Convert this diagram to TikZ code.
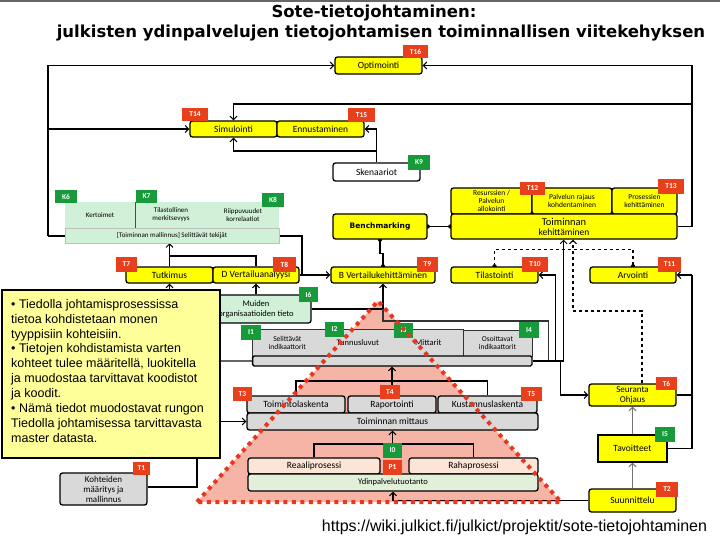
\documentclass[tikz,border=0pt]{standalone}
\usepackage{fontspec}
\setmainfont{Carlito}
\newfontfamily\titlefont{DejaVu Sans}
\newfontfamily\arialfont{Liberation Sans}
\usetikzlibrary{arrows.meta}
\pgfdeclarelayer{pyr}\pgfdeclarelayer{bg}\pgfdeclarelayer{fg}
\pgfsetlayers{pyr,bg,main,fg}
\definecolor{ybox}{HTML}{FFFF00}
\definecolor{ytext}{HTML}{FFFF99}
\definecolor{tred}{HTML}{E8401C}
\definecolor{kgreen}{HTML}{169A3A}
\definecolor{lgreen}{HTML}{D0F0D8}
\definecolor{gbox}{HTML}{D9D9D9}
\definecolor{peach}{HTML}{FCE4D6}
\definecolor{ygreen}{HTML}{E2F0D9}
\definecolor{pyrfill}{HTML}{F6B4A6}
\definecolor{pyrdot}{HTML}{E8371E}
\newcommand\mybox[7]{\node[#6, minimum width={#4pt-#2pt}, minimum height={#5pt-#3pt}] (#1) at ({(#2+#4)/2},{(#3+#5)/2}) {#7};}
\begin{document}
\begin{tikzpicture}[x=1pt,y=-1pt,
  >={Straight Barb[length=3.5pt,width=7pt,line width=1pt]},
  conn/.style={line width=1.3pt},
  box/.style={draw=black, line width=1.3pt, rounded corners=2.5pt, fill=ybox, inner sep=0pt, align=center, font=\fontsize{9.5}{10}\selectfont},
  sbox/.style={box, font=\fontsize{7.5}{8}\selectfont},
  wbox/.style={box, fill=white},
  gcell/.style={fill=gbox, inner sep=0pt, align=center, font=\fontsize{7.5}{8}\selectfont},
  kcell/.style={fill=lgreen, inner sep=0pt, align=center, font=\fontsize{7}{8}\selectfont},
  lab/.style={inner sep=0pt, text=white, font=\bfseries\fontsize{7.5}{8}\selectfont},
  tlab/.style={lab, fill=tred},
  klab/.style={lab, fill=kgreen}]
\useasboundingbox (0,0) rectangle (720,540);
\begin{pgfonlayer}{pyr}
\fill[white] (0,0) rectangle (720,540);
\fill[pyrfill] (378,301) -- (561,502) -- (197,502) -- cycle;
\end{pgfonlayer}
\draw[black!60, line width=1.5pt] (0,1) -- (720,1);

% title
\node[font=\titlefont\bfseries\fontsize{16.5}{18}\selectfont] (t1) at (374,13) {Sote-tietojohtaminen:};
\node[font=\titlefont\bfseries\fontsize{16.5}{18}\selectfont] (t2) at (381,33) {julkisten ydinpalvelujen tietojohtamisen toiminnallisen viitekehyksen};

% boxes
\mybox{opt}{335}{57}{422}{74}{box}{Optimointi}
\mybox{sim}{190}{121}{277}{137}{box}{Simulointi}
\mybox{enn}{277}{121}{364}{137}{box}{Ennustaminen}
\mybox{sken}{333}{163}{420}{181}{wbox}{Skenaariot}
\mybox{res}{451}{188}{532}{214}{sbox}{Resurssien /\\Palvelun\\allokointi}
\mybox{pal}{532}{188}{612}{214}{sbox}{Palvelun rajaus\\kohdentaminen}
\mybox{pro}{612}{188}{677}{214}{sbox}{Prosessien\\kehittäminen}
\mybox{tk}{451}{214}{677}{239}{box}{\fontsize{10.5}{12}\selectfont Toiminnan\\kehittäminen}
\mybox{bench}{333}{214}{427}{239}{box}{\titlefont\bfseries\fontsize{7.5}{8}\selectfont Benchmarking}

\mybox{ker}{65}{202}{135}{228}{kcell}{Kertoimet}
\mybox{tila}{135}{202}{207}{228}{kcell}{Tilastollinen\\merkitsevyys}
\mybox{rii}{207}{202}{279}{228}{kcell}{Riippuvuudet\\korrelaatiot}
\mybox{kbar}{65}{228}{279}{243}{kcell, draw=black!25, line width=0.5pt}{[Toiminnan mallinnus]  Selittävät tekijät}
\draw[black!70, line width=0.7pt] (ker.north east) -- (ker.south east);

\mybox{tut}{126}{267}{213}{283}{box}{Tutkimus}
\mybox{dv}{213}{267}{299}{283}{box}{D Vertailuanalyysi}
\mybox{bv}{331}{267}{435}{283}{box}{B Vertailukehittäminen}
\mybox{til}{451}{267}{538}{283}{box}{Tilastointi}
\mybox{arv}{590}{267}{676}{283}{box}{Arvointi}

\mybox{mui}{201}{295}{311}{323}{box, fill=lgreen, font=\fontsize{8.5}{10}\selectfont}{Muiden\\organisaatioiden tieto}

\mybox{sel}{252.6}{330}{322}{356}{gcell}{Selittävät\\indikaattorit}
\mybox{tun}{322}{330}{393.6}{356}{gcell, font=\fontsize{8.5}{9}\selectfont}{Tunnusluvut}
\mybox{mit}{393.6}{330}{463}{356}{gcell, font=\fontsize{8.5}{9}\selectfont}{Mittarit}
\draw[black!80, line width=1pt] (sel.north west) rectangle (mit.south east);
\mybox{oso}{463}{330}{532}{356}{gcell, draw=black!80, line width=1pt}{Osoittavat\\indikaattorit}
\mybox{gbar}{252.6}{356}{532}{366}{box, fill=gbox, rounded corners=1.5pt}{}

\mybox{tol}{247}{396}{345}{413}{box, fill=gbox}{Toimintolaskenta}
\mybox{rap}{348}{396}{436}{413}{box, fill=gbox}{Raportointi}
\mybox{kus}{438}{396}{537}{413}{box, fill=gbox}{Kustannuslaskenta}
\mybox{tm}{247}{413}{538}{430}{box, fill=gbox}{Toiminnan  mittaus}

\mybox{rea}{248}{458}{380}{474}{box, fill=peach}{Reaaliprosessi}
\mybox{raha}{409}{458}{538}{474}{box, fill=peach}{Rahaprosessi}
\mybox{ydin}{248}{474}{538}{491}{box, fill=ygreen, font=\fontsize{8.5}{9}\selectfont}{Ydinpalvelutuotanto}

\mybox{koh}{60}{473}{147}{505}{box, fill=gbox, font=\fontsize{9}{10}\selectfont}{Kohteiden\\määritys ja\\mallinnus}
\mybox{seur}{589}{384}{676}{406}{box, font=\fontsize{9}{10}\selectfont}{Seuranta\\Ohjaus}
\mybox{tav}{598}{435}{667}{462}{box, rounded corners=0pt}{Tavoitteet}
\mybox{suu}{589}{489}{676}{512}{box}{Suunnittelu}

% text box
\begin{pgfonlayer}{fg}
\mybox{tb}{2}{290}{220}{458}{draw=black, line width=2.5pt, fill=ytext, inner sep=0pt}{}
\node[anchor=north west, inner sep=0pt, align=left, font=\arialfont\fontsize{12.5}{14.9}\selectfont] (tbt) at (11,299) {• Tiedolla johtamisprosessissa\\tietoa kohdistetaan monen\\tyyppisiin kohteisiin.\\• Tietojen kohdistamista varten\\kohteet tulee määritellä, luokitella\\ja muodostaa tarvittavat koodistot\\ja koodit.\\• Nämä tiedot muodostavat rungon\\Tiedolla johtamisessa tarvittavasta\\master datasta.};
\draw[pyrdot, line width=4pt, dash pattern=on 4pt off 4.5pt] (197,502) -- (378,301) -- (561,502) -- cycle;
\end{pgfonlayer}

% labels
\mybox{lT16}{403}{45}{428}{58}{tlab}{T16}
\mybox{lT14}{182}{108}{208}{121}{tlab}{T14}
\mybox{lT15}{348}{108}{375}{122}{tlab}{T15}
\mybox{lK9}{408}{155}{430}{170}{klab}{K9}
\mybox{lT12}{520}{182}{545}{195}{tlab}{T12}
\mybox{lT13}{658}{179}{684}{194}{tlab}{T13}
\mybox{lK6}{55}{190}{77}{203}{klab}{K6}
\mybox{lK7}{136}{190}{157}{203}{klab}{K7}
\mybox{lK8}{262}{193}{284}{207}{klab}{K8}
\mybox{lT7}{116}{257}{137}{272}{tlab}{T7}
\mybox{lT8}{273}{257}{296}{272}{tlab}{T8}
\mybox{lT9}{417}{257}{438}{272}{tlab}{T9}
\mybox{lT10}{522}{257}{548}{272}{tlab}{T10}
\mybox{lT11}{658}{257}{681}{272}{tlab}{T11}
\mybox{lI6}{299}{287}{318}{302}{klab}{I6}
\mybox{lI1}{241}{325}{261}{340}{klab}{I1}
\mybox{lI2}{325}{322}{344}{337}{klab}{I2}
\mybox{lI3}{394}{323}{413}{338}{klab}{I3}
\mybox{lI4}{519}{322}{539}{338}{klab}{I4}
\mybox{lT3}{233}{387}{252}{401}{tlab}{T3}
\mybox{lT4}{380}{385}{400}{399}{tlab}{T4}
\mybox{lT5}{521}{387}{542}{401}{tlab}{T5}
\mybox{lI0}{383}{443}{402}{458}{klab}{I0}
\mybox{lP1}{383}{460}{402}{475}{tlab}{P1}
\mybox{lT1}{133}{462}{150}{475}{tlab}{T1}
\mybox{lT6}{656}{377}{677}{390}{tlab}{T6}
\mybox{lI5}{655}{427}{675}{442}{klab}{I5}
\mybox{lT2}{656}{482}{678}{497}{tlab}{T2}

% url
\node[font=\arialfont\fontsize{16}{16}\selectfont] (url) at (514.5,527) {https://wiki.julkict.fi/julkict/projektit/sote-tietojohtaminen};

% connectors
\begin{pgfonlayer}{bg}
\coordinate (L1) at (48,236);
\coordinate (L2) at (48,129);
\coordinate (R1) at (692,227);
\coordinate (R2) at (692,104);
\coordinate (R3) at (692,275);
\coordinate (J1) at (376.5,151);
\coordinate (J2) at (169.5,256);
\coordinate (J3) at (302,236);
\coordinate (J5) at (383,309);
\coordinate (J6) at (548.5,321);
\coordinate (J7) at (563.6,361);
\coordinate (J8) at (555.4,361);
\coordinate (J9) at (560.6,361);
\coordinate (D1) at (642,311);
\coordinate (D2) at (573,250);
\coordinate (K1) at (197,487);
\coordinate (B1) at (392,381);
\coordinate (B2) at (392.5,444);

\draw[conn, ->] (L1) |- (opt.west);
\draw[conn, ->] (L2) -- (sim.west);
\draw[line width=2.5pt] (L1) -- (kbar.west |- L1);
\draw[conn, ->] (tk.east -| R1) -- (R1) |- (opt.east);
\draw[conn] (tk.east) -- (tk.east -| R1);
\draw[conn, ->] (R2) -| (sim.north);
\draw[conn, ->] (sken.north) |- (enn.east);
\draw[conn, ->] (J1) -| (sim.south);

\draw[conn] (bench.east) -- (tk.west);
\fill (bench.east) circle (2.2pt);
\fill (tk.west) circle (2.2pt);
\draw[conn] (bench.south) -- ++(0,14) -| (bv.north);
\fill (bench.south) circle (2.2pt);
\fill (bv.north) circle (2.2pt);

\draw[conn, ->] (tut.north) -- (kbar.south -| tut.north);
\draw[conn] (dv.north -| 256,0) |- (J2);
\draw[conn] (kbar.east |- J3) -- (J3) |- (bv.west);
\draw[line width=2pt, ->] (dv.east) -- (bv.west);
\draw[conn, ->] (mui.north) -- (mui.north |- dv.south);
\draw[conn, ->] (tut.south |- tb.north) -- (tut.south);
\draw[conn] (mui.east |- J5) -- (J5);
\draw[conn, ->] (J5) -- (bv.south);
\draw[conn, black!80] (J5) |- (J6) -- (J6 |- gbar.east);

\draw[conn] (gbar.east) -- (J7);
\draw[conn, ->] (J7) -- (J7 |- tk.south);
\draw[conn, ->] (J8) |- (til.east);
\draw[conn, ->] (J9) |- (seur.west);

\draw[conn, dashed] (til.north) -- ++(0,-17) -| (arv.north);
\fill (til.north) circle (2.2pt);
\fill (arv.north) circle (2.2pt);
\draw[conn, dashed, ->] (seur.north -| D1) -- (D1) -| (D2 |- tk.south);

\draw[conn, ->] (R3) -- (arv.east);
\draw[conn] (R3) |- (tav.east);
\draw[conn] (seur.east) -- (seur.east -| R3);
\draw[conn, black!55, ->] (suu.north) -- (tav.south);
\draw[conn, black!55, ->] (tav.north) -- (seur.south);
\draw[conn, ->] (suu.west) -| (ydin.south);

\draw[conn, black!60] (tb.east |- gbar.west) -- (gbar.west);
\draw[conn, ->] (tb.east |- tm.west) -- (tm.west);
\draw[conn] (tol.north) |- (B1) -| (kus.north);
\draw[conn] (rap.north) -- (B1);
\draw[conn, ->] (B1) -- (B1 |- gbar.south);
\draw[conn] (rea.north) |- (B2) -| (raha.north);
\draw[conn, ->] (B2) -- (tm.south);
\draw[conn] (koh.east |- K1) -- (K1) -- (K1 |- tb.south);
\end{pgfonlayer}
\end{tikzpicture}
\end{document}
